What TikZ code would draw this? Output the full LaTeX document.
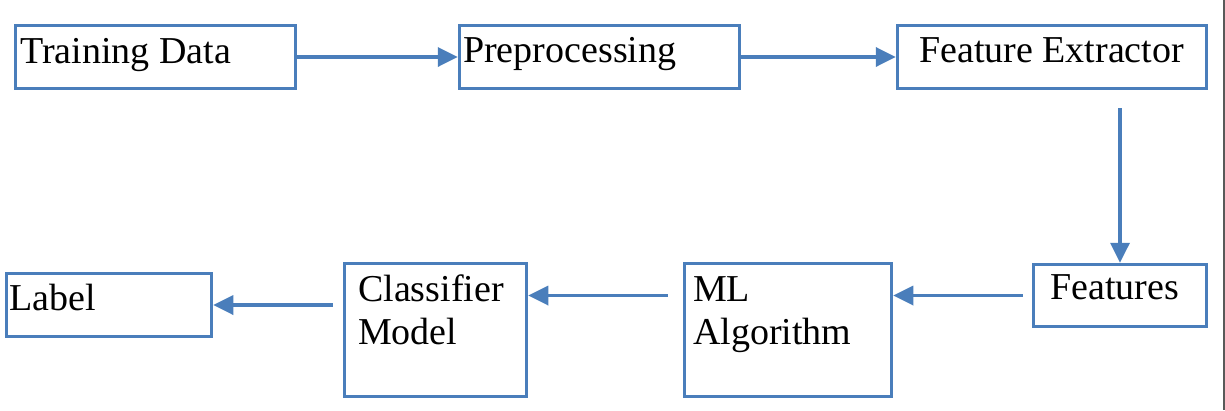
\documentclass[tikz,border=0pt]{standalone}
\usepackage{fontspec}
\setmainfont{Liberation Serif}
\usetikzlibrary{arrows.meta,calc}
\definecolor{boxblue}{HTML}{4A7EBB}
\tikzstyle{stagebox} = [rectangle, draw=boxblue, line width=3.5pt, inner sep=0pt]
\tikzstyle{stagetext} = [inner sep=0pt, anchor=base west, align=left, font=\fontsize{38}{43}\selectfont]
\tikzstyle{flow} = [draw=boxblue, line width=3.5pt, -{Triangle[length=20pt, width=19pt]}]

\begin{document}
\begin{tikzpicture}[x=1pt, y=-1pt]
  \useasboundingbox (0, 0) rectangle (1225, 410);
  % top row
  \node[stagebox, minimum width=280, minimum height=63] (td) at (155.5, 57) {};
  \node[stagebox, minimum width=280, minimum height=63] (pre) at (599.5, 57) {};
  \node[stagebox, minimum width=309, minimum height=63] (fe) at (1052, 57) {};
  % bottom row
  \node[stagebox, minimum width=173, minimum height=62] (feat) at (1120, 295.5) {};
  \node[stagebox, minimum width=207, minimum height=133] (ml) at (788, 330) {};
  \node[stagebox, minimum width=182, minimum height=133] (cm) at (435.5, 330) {};
  \node[stagebox, minimum width=205, minimum height=63] (lab) at (109, 305) {};
  % texts (base = last line)
  \node[stagetext] (tdtext) at (20, 63) {Training Data};
  \node[stagetext] (pretext) at (463, 62) {Preprocessing};
  \node[stagetext] (fetext) at (919, 62) {Feature Extractor};
  \node[stagetext] (feattext) at (1050, 299) {Features};
  \node[stagetext] (mltext) at (693, 344) {ML\\Algorithm};
  \node[stagetext] (cmtext) at (358, 344) {Classifier\\Model};
  \node[stagetext] (labtext) at (9, 310) {Label};
  % arrows
  \foreach \a\b in {td/pre, pre/fe} {
    \draw[flow] (\a.east) -- (\b.west);
  }
  \draw[flow] ($(fe.south -| feat.north) + (0, 18)$) -- (feat.north);
  \draw[flow] ([xshift=-9pt]feat.west) -- (feat.west -| ml.east);
  \draw[flow] ([xshift=-15pt]ml.west |- feat.west) -- (feat.west -| cm.east);
  \draw[flow] ([xshift=-10pt]cm.west |- lab.east) -- (lab.east);
  \draw[gray!70!black, line width=1.5pt] (1224, 0) -- (1224, 410);
\end{tikzpicture}
\end{document}
